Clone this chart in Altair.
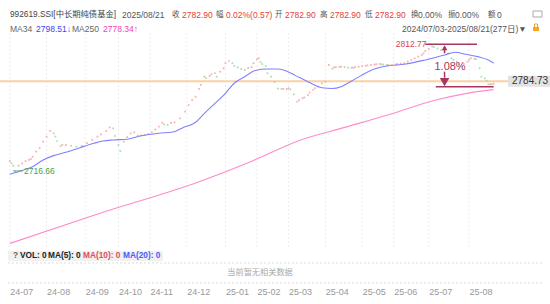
import altair as alt
import pandas as pd

# ---------------- data ----------------
close_idx = [0, 1, 2, 3, 5, 7, 9, 11, 12, 13, 15, 17, 19, 21, 23, 25, 26, 27, 29, 30,
             32, 35, 38, 41, 44, 47, 50, 52, 55, 57, 59, 60, 62, 63, 65, 67, 69, 71, 73, 75,
             77, 79, 81, 83, 85, 87, 88, 90, 92, 94, 97, 100, 102, 104, 106, 108, 109, 111, 112, 114,
             115, 117, 118, 120, 122, 123, 125, 127, 128, 130, 132, 134, 136, 138, 139, 141, 142, 143, 144, 146,
             147, 149, 151, 153, 155, 156, 158, 159, 160, 162, 164, 165, 167, 168, 170, 171, 173, 174, 176, 178,
             180, 182, 184, 185, 186, 188, 189, 191, 193, 195, 196, 197, 199, 201, 203, 204, 206, 208, 209, 211,
             212, 213, 215, 216, 218, 220, 221, 223, 225, 227, 229, 231, 233, 235, 236, 237, 239, 240, 241, 242,
             244, 246, 248, 250, 252, 253, 255, 256, 258, 259, 261, 262, 263, 265, 266, 268, 269, 271, 272, 273,
             274, 275, 276]
close_val = [2724.2, 2722.5, 2720.7, 2716.66, 2720.7, 2722.5, 2724.2, 2725.0, 2725.8, 2727.5,
             2731.3, 2734.1, 2738.9, 2742.7, 2747.0, 2745.2, 2742.7, 2739.4, 2735.6, 2736.4,
             2736.4, 2735.8, 2735.1, 2735.8, 2737.7, 2740.2, 2742.7, 2744.5, 2747.0, 2749.7,
             2749.0, 2743.2, 2736.4, 2731.8, 2738.9, 2742.4, 2745.2, 2746.0, 2743.4, 2743.6,
             2744.0, 2744.7, 2746.0, 2748.1, 2750.3, 2753.3, 2752.0, 2751.5, 2753.1, 2753.6,
             2756.6, 2761.6, 2766.7, 2770.5, 2773.0, 2778.9, 2781.9, 2788.2, 2787.0, 2788.7,
             2790.0, 2790.8, 2788.2, 2792.0, 2794.6, 2798.4, 2800.1, 2798.4, 2796.3, 2795.2,
             2794.0, 2793.3, 2794.8, 2795.5, 2798.4, 2801.4, 2802.2, 2799.3, 2797.8, 2796.3,
             2790.8, 2788.2, 2784.2, 2779.2, 2778.9, 2778.9, 2778.9, 2779.4, 2778.6, 2774.8,
             2769.2, 2770.5, 2771.8, 2772.4, 2774.3, 2776.2, 2778.1, 2779.4, 2780.6, 2783.2,
             2784.4, 2797.1, 2794.3, 2795.2, 2795.4, 2795.5, 2795.8, 2795.5, 2795.0, 2795.0,
             2795.0, 2795.5, 2795.8, 2796.3, 2796.5, 2796.8, 2797.1, 2797.4, 2797.6, 2797.8,
             2797.6, 2797.4, 2797.1, 2797.1, 2797.1, 2797.4, 2797.8, 2798.2, 2798.4, 2799.7,
             2800.9, 2802.0, 2803.4, 2804.7, 2805.9, 2807.7, 2809.2, 2812.77, 2811.1, 2810.7,
             2809.6, 2808.4, 2807.3, 2805.9, 2802.2, 2800.9, 2799.6, 2797.8, 2795.8, 2797.8,
             2799.6, 2800.9, 2802.2, 2801.8, 2801.6, 2794.6, 2788.2, 2787.0, 2784.9, 2782.4,
             2782.6, 2782.33, 2782.90]

ma34_idx = [0, 6, 13, 19, 25, 32, 40, 48, 53, 59, 67, 75, 85, 93, 99, 106, 111, 117, 123, 128,
            134, 140, 147, 152, 157, 163, 170, 178, 184, 189, 195, 201, 208, 216, 225, 237, 248, 254, 260, 267,
            273, 276]
ma34_val = [2714.1, 2716.6, 2719.9, 2725.0, 2728.3, 2730.8, 2734.3, 2737.7, 2739.4, 2740.2,
            2740.7, 2743.4, 2745.3, 2746.2, 2749.7, 2753.6, 2760.4, 2768.0, 2775.6, 2783.2,
            2788.2, 2792.9, 2794.0, 2794.0, 2792.9, 2789.0, 2784.4, 2779.8, 2779.2, 2780.6,
            2784.9, 2789.5, 2794.0, 2796.5, 2797.6, 2800.9, 2804.7, 2806.7, 2805.2, 2803.4,
            2800.9, 2798.51]

ma250_idx = [0, 51, 108, 137, 166, 191, 217, 243, 260, 276]
ma250_val = [2661.7, 2684.4, 2708.5, 2723.5, 2740.2, 2749.7, 2759.7, 2770.5, 2775.4, 2778.34]

month_idx = [0, 21, 43, 62, 80, 101, 123, 141, 159, 180, 201, 219, 239, 262]
month_lbl = ["24-07", "24-08", "24-09", "24-10", "24-11", "24-12", "25-01",
             "25-02", "25-03", "25-04", "25-05", "25-06", "25-07", "25-08"]

high_idx, high_val = 240, 2812.77
low_idx, low_val = 3, 2716.66
cross_val = 2784.73
measure_hi, measure_lo, measure_pct = 2812.77, 2780.6, "1.08%"
measure_top_span = [237, 266.5]
measure_bot_span = [243, 276]
measure_x = 248

# ---------------- layout ----------------
W, H = 550, 283
x_dom = [-5.59, 308.15]
y_dom = [2631.66, 2846.38]
PPU = H / (y_dom[1] - y_dom[0])  # pixels per price unit

FONT = "Liberation Sans, Noto Sans CJK SC, sans-serif"
RED = "#e5403a"
GRAY = "#555555"
MEAS = "#a8365f"

label_expr = ("[" + ",".join(f"'{l}'" for l in month_lbl) + "][indexof(["
              + ",".join(str(i) for i in month_idx) + "], datum.value)]")
x_axis = alt.Axis(values=month_idx, labelExpr=label_expr, labelAlign="left", labelBaseline="top",
                  labelFontSize=9, labelFont=FONT, labelColor="#999999", ticks=False, domain=False,
                  grid=False, labelPadding=4, labelFlush=False, labelOverlap=False, labelBound=False,
                  title=None)


def X(field="idx"):
    return alt.X(f"{field}:Q", scale=alt.Scale(domain=x_dom, nice=False, zero=False), axis=x_axis)


def Y(field="val"):
    return alt.Y(f"{field}:Q", scale=alt.Scale(domain=y_dom, nice=False, zero=False), axis=None)


def label(text, x, y, color, size=8.5, weight="normal", align="left"):
    return alt.Chart(pd.DataFrame({"t": [text]})).mark_text(
        align=align, baseline="middle", font=FONT, fontSize=size, fontWeight=weight, color=color
    ).encode(x=alt.value(x), y=alt.value(y), text="t:N")


layers = []

# vertical month grid
layers.append(alt.Chart(pd.DataFrame({"idx": month_idx})).mark_rule(
    color="#ececec", strokeWidth=1, strokeDash=[2, 2]).encode(x=X(), y=alt.value(33), y2=alt.value(248)))

# volume panel background and dotted lines
one = pd.DataFrame({"a": [0]})
layers.append(alt.Chart(one).mark_rect(color="#f1f1f1").encode(
    x=alt.value(8), x2=alt.value(163), y=alt.value(251), y2=alt.value(261)))
for yy in (263, 283):
    layers.append(alt.Chart(one).mark_rule(color="#dddddd", strokeDash=[2, 2], strokeWidth=1).encode(
        x=alt.value(8), x2=alt.value(542), y=alt.value(yy)))

# MA250
layers.append(alt.Chart(pd.DataFrame({"idx": ma250_idx, "val": ma250_val})).mark_line(
    color="#ff8ccc", strokeWidth=1.2, interpolate="monotone").encode(x=X(), y=Y()))

# crosshair horizontal line
cross_df = pd.DataFrame({"val": [cross_val], "hi": [cross_val + 5.5 / PPU],
                         "lo": [cross_val - 5.5 / PPU], "t": [f"{cross_val:.2f}"]})
layers.append(alt.Chart(cross_df).mark_rule(color="#fbd0a2", strokeWidth=2).encode(
    x=alt.value(0), x2=alt.value(508), y=Y()))

# daily closes (open == close, so each day is a tiny tick)
cdf = pd.DataFrame({"idx": close_idx, "val": close_val})
cdf["dir"] = ["up" if i == 0 or v >= cdf["val"].iloc[i - 1] else "down" for i, v in enumerate(cdf["val"])]
layers.append(alt.Chart(cdf).mark_square(size=3, opacity=0.85).encode(
    x=X(), y=Y(),
    color=alt.Color("dir:N", scale=alt.Scale(domain=["up", "down"], range=["#f4a2a2", "#9ed79e"]), legend=None)))

# MA34
layers.append(alt.Chart(pd.DataFrame({"idx": ma34_idx, "val": ma34_val})).mark_line(
    color="#8080ff", strokeWidth=1.1, interpolate="monotone").encode(x=X(), y=Y()))

# crosshair price box
layers.append(alt.Chart(cross_df).mark_rect(color="#e2e2e2").encode(
    x=alt.value(508), x2=alt.value(550), y=Y("hi"), y2="lo"))
layers.append(alt.Chart(cross_df).mark_text(align="left", baseline="middle", font=FONT, fontSize=10,
                                            color="#333333").encode(x=alt.value(512), y=Y(), text="t:N"))

# low label
low_df = pd.DataFrame({"idx": [low_idx - 1], "idx2": [low_idx + 4.5], "val": [low_val],
                       "t": [f"{low_val:.2f}"], "tx": [low_idx]})
layers.append(alt.Chart(low_df).mark_rule(color="#5aa58a", strokeWidth=1).encode(x=X(), x2="idx2", y=Y()))
layers.append(alt.Chart(low_df).mark_text(align="left", baseline="middle", font=FONT, fontSize=8.5,
                                          color="#4a9e4a", dx=9).encode(x=X("tx"), y=Y(), text="t:N"))

# high label
high_df = pd.DataFrame({"idx": [high_idx], "val": [high_val], "t": [f"{high_val:.2f}"]})
layers.append(alt.Chart(high_df).mark_text(align="right", baseline="middle", font=FONT, fontSize=8.5,
                                           color="#d9434f", dx=-4).encode(x=X(), y=Y(), text="t:N"))

# measuring tool
mdf = pd.DataFrame({"idx": [measure_top_span[0], measure_bot_span[0]],
                    "idx2": [measure_top_span[1], measure_bot_span[1]],
                    "val": [measure_hi, measure_lo]})
layers.append(alt.Chart(mdf).mark_rule(color=MEAS, strokeWidth=1.5).encode(x=X(), x2="idx2", y=Y()))
stem_df = pd.DataFrame({"idx": [measure_x, measure_x],
                        "val": [measure_hi - 3 / PPU, measure_lo + 9 / PPU],
                        "val2": [measure_hi - 9 / PPU, measure_lo + 15 / PPU]})
layers.append(alt.Chart(stem_df).mark_rule(color=MEAS, strokeWidth=1.5).encode(x=X(), y=Y(), y2="val2"))
layers.append(alt.Chart(pd.DataFrame({"idx": [measure_x], "val": [measure_hi]})).mark_point(
    shape="triangle-up", filled=True, size=32, color=MEAS, opacity=1, yOffset=3.5).encode(x=X(), y=Y()))
layers.append(alt.Chart(pd.DataFrame({"idx": [measure_x], "val": [measure_lo]})).mark_point(
    shape="triangle-down", filled=True, size=90, color=MEAS, opacity=1, yOffset=-4.5).encode(x=X(), y=Y()))
layers.append(alt.Chart(pd.DataFrame({"idx": [measure_x], "val": [measure_hi], "t": [measure_pct]})).mark_text(
    align="center", baseline="middle", font=FONT, fontSize=11, color=MEAS, dx=5.5, dy=22.5).encode(
    x=X(), y=Y(), text="t:N"))

# header lines
Y1, Y2 = 15, 28.5
header = [
    ("992619.SSI[中长期纯债基金]", 10, Y1, "#444444", 8.3),
    ("2025/08/21", 122, Y1, GRAY, 8.5),
    ("收", 172, Y1, GRAY, 7.5), ("2782.90", 182, Y1, RED, 8.5),
    ("幅", 216, Y1, GRAY, 7.5), ("0.02%(0.57)", 226, Y1, RED, 8.5),
    ("开", 275, Y1, GRAY, 7.5), ("2782.90", 285, Y1, RED, 8.5),
    ("高", 320, Y1, GRAY, 7.5), ("2782.90", 330, Y1, RED, 8.5),
    ("低", 365, Y1, GRAY, 7.5), ("2782.90", 375, Y1, RED, 8.5),
    ("换", 411, Y1, GRAY, 7.5), ("0.00%", 418, Y1, GRAY, 8.5),
    ("振", 448, Y1, GRAY, 7.5), ("0.00%", 455, Y1, GRAY, 8.5),
    ("额", 488, Y1, GRAY, 7.5), ("0", 497, Y1, GRAY, 8.5),
    ("MA34", 10, Y2, "#666666", 8.5), ("2798.51↓", 36, Y2, "#4343ee", 8.5),
    ("MA250", 72, Y2, "#666666", 8.5), ("2778.34↑", 103, Y2, "#ee45b5", 8.5),
    ("2024/07/03-2025/08/21(277日)▼", 402, Y2, GRAY, 8.5),
]
for t, x, y, c, s in header:
    layers.append(label(t, x, y, c, s))

# header icons
layers.append(alt.Chart(one).mark_rect(fill="#ffffff", stroke="#aaaaaa", strokeWidth=1).encode(
    x=alt.value(533), x2=alt.value(542), y=alt.value(11), y2=alt.value(17)))
layers.append(alt.Chart(one).mark_rect(fill="#ffffff", stroke="#f0a030", strokeWidth=1).encode(
    x=alt.value(534.5), x2=alt.value(537.5), y=alt.value(24), y2=alt.value(28)))
layers.append(alt.Chart(one).mark_rect(color="#f5a623").encode(
    x=alt.value(533), x2=alt.value(539), y=alt.value(27), y2=alt.value(31)))

# volume panel texts
vol = [
    ("?", 13, 256, "#666666"),
    ("VOL: 0", 20, 256, "#222222"),
    ("MA(5): 0", 48, 256, "#222222"),
    ("MA(10): 0", 83, 256, "#e84a5f"),
    ("MA(20): 0", 123, 256, "#4a5cff"),
]
for t, x, y, c in vol:
    layers.append(label(t, x, y, c, 8.3, 600))
layers.append(label("当前暂无相关数据", 260, 273, "#aaaaaa", 8.2, align="center"))

chart = alt.layer(*layers).properties(
    width=W, height=H,
    autosize=alt.AutoSizeParams(type="none"),
    padding={"left": 0, "top": 0, "right": 0, "bottom": 21},
    background="white",
).configure_view(strokeWidth=0)

chart.save("out.html", embed_options={"renderer": "svg", "actions": False})
